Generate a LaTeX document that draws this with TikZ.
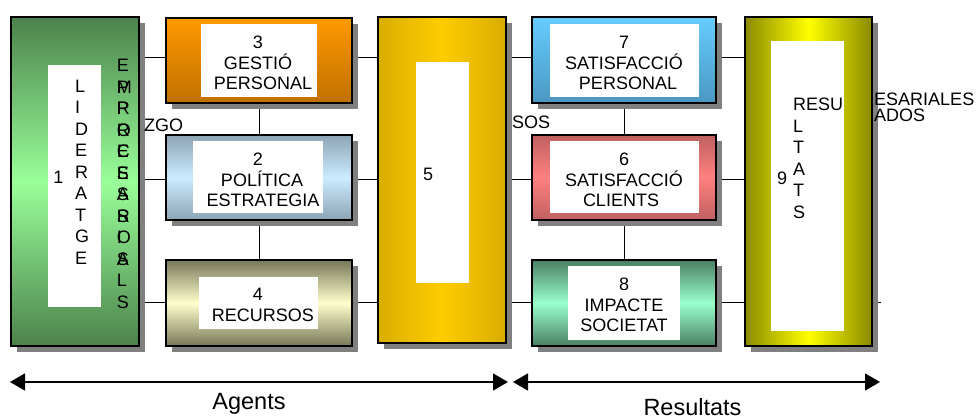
\documentclass[tikz,border=0pt]{standalone}
\usepackage{fontspec}
\setmainfont{Liberation Sans}
\usetikzlibrary{shadows,arrows.meta,backgrounds}
\definecolor{gOne}{HTML}{4C824C}
\definecolor{gOneL}{HTML}{99FF99}
\definecolor{oTop}{HTML}{FF9900}
\definecolor{oBot}{HTML}{C07000}
\definecolor{bgEdge}{HTML}{8CA5B5}
\definecolor{bgMid}{HTML}{CCEBFF}
\definecolor{olEdge}{HTML}{77775A}
\definecolor{olMid}{HTML}{FFFFCC}
\definecolor{gdEdge}{HTML}{D9AD00}
\definecolor{gdMid}{HTML}{FFCC00}
\definecolor{skTop}{HTML}{66CCFF}
\definecolor{skBot}{HTML}{4A98C2}
\definecolor{rdEdge}{HTML}{C06060}
\definecolor{rdMid}{HTML}{FF8080}
\definecolor{mnEdge}{HTML}{4A8063}
\definecolor{mnMid}{HTML}{99FFCC}
\definecolor{yeEdge}{HTML}{8A8A00}
\definecolor{yeMid}{HTML}{FFFF00}
\begin{document}
\begin{tikzpicture}[x=1pt,y=-1pt,
  box/.style={draw=black, line width=1.8pt, inner sep=0pt, outer sep=0pt,
    drop shadow={shadow xshift=5.5pt,shadow yshift=-5.5pt,fill=black!50,opacity=1}},
  inner/.style={fill=white, inner sep=0pt, outer sep=0pt},
  lbl/.style={font=\fontsize{18}{20.5}\selectfont, align=center, inner sep=0pt},
  vert/.style={font=\fontsize{18}{21.5}\selectfont, align=left, inner sep=0pt, anchor=north west},
  conn/.style={line width=1pt},
  span/.style={line width=1.3pt, {Triangle[length=15pt,width=17pt]}-{Triangle[length=15pt,width=17pt]}},
  big/.style={font=\fontsize{23.5}{26}\selectfont, inner sep=0pt, anchor=base}]
\useasboundingbox (0,0) rectangle (979,418);

% boxes
\node[box, top color=gOne, bottom color=gOne, middle color=gOneL, minimum width=128pt, minimum height=329pt] (b1) at (75,181.5) {};
\node[box, top color=oTop, bottom color=oBot, minimum width=186pt, minimum height=85pt] (b3) at (259,60.5) {};
\node[box, top color=bgEdge, bottom color=bgEdge, middle color=bgMid, minimum width=186pt, minimum height=85pt] (b2) at (259,177.5) {};
\node[box, top color=olEdge, bottom color=olEdge, middle color=olMid, minimum width=186pt, minimum height=86pt] (b4) at (259,303) {};
\node[box, left color=gdEdge, right color=gdEdge, middle color=gdMid, minimum width=128pt, minimum height=326pt] (b5) at (442,180) {};
\node[box, top color=skTop, bottom color=skBot, minimum width=184pt, minimum height=86pt] (b7) at (624,60) {};
\node[box, top color=rdEdge, bottom color=rdEdge, middle color=rdMid, minimum width=184pt, minimum height=85pt] (b6) at (624,177.5) {};
\node[box, top color=mnEdge, bottom color=mnEdge, middle color=mnMid, minimum width=184pt, minimum height=86pt] (b8) at (624,303) {};
\node[box, left color=yeEdge, right color=yeEdge, middle color=yeMid, minimum width=127pt, minimum height=329pt] (b9) at (808.5,181.5) {};

% inner white panels
\node[inner, minimum width=53pt, minimum height=242pt] (w1) at (74.5,186) {};
\node[inner, minimum width=116pt, minimum height=73pt] (w3) at (259,60.5) {};
\node[inner, minimum width=130pt, minimum height=72pt] (w2) at (258,177) {};
\node[inner, minimum width=119pt, minimum height=52pt] (w4) at (258.5,303) {};
\node[inner, minimum width=53pt, minimum height=221pt] (w5) at (442.5,172.5) {};
\node[inner, minimum width=149pt, minimum height=73pt] (w7) at (624.5,60.5) {};
\node[inner, minimum width=149pt, minimum height=72pt] (w6) at (624.5,177) {};
\node[inner, minimum width=112pt, minimum height=74pt] (w8) at (624,303) {};
\node[inner, minimum width=73pt, minimum height=290pt] (w9) at (807.5,186) {};

% connectors
\coordinate (r1) at (0,57);
\coordinate (r2) at (0,179);
\coordinate (r3) at (0,302);
\coordinate (stub) at (881,302);
\begin{scope}[on background layer]
  \draw[conn] (b1 |- r1) -- (b3 |- r1);
  \draw[conn] (b3 |- r1) -- (b5 |- r1);
  \draw[conn] (b5 |- r1) -- (b7 |- r1);
  \draw[conn] (b7 |- r1) -- (b9 |- r1);
  \draw[conn] (b1 |- r2) -- (b2 |- r2);
  \draw[conn] (b2 |- r2) -- (b5 |- r2);
  \draw[conn] (b5 |- r2) -- (b6 |- r2);
  \draw[conn] (b6 |- r2) -- (b9 |- r2);
  \draw[conn] (b1 |- r3) -- (b4 |- r3);
  \draw[conn] (b4 |- r3) -- (b5 |- r3);
  \draw[conn] (b5 |- r3) -- (b8 |- r3);
  \draw[conn] (b8 |- r3) -- (b9 |- r3);
  \draw[conn] (b9 |- r3) -- (stub);
  \draw[conn] (b3) -- (b2);
  \draw[conn] (b2) -- (b4);
  \draw[conn] (b7) -- (b6);
  \draw[conn] (b6) -- (b8);
\end{scope}

% texts
\node[vert] (lid) at (75,79.5) {L\\I\\D\\E\\R\\A\\T\\G\\E};
\node[vert] (emp) at (116.7,59) {E\\M\\P\\R\\E\\S\\A\\R\\I\\A\\L\\S};
\node[vert] (proc) at (116.7,80.5) {P\\R\\O\\C\\E\\S\\S\\O\\S};
\node[lbl] (n1) at (58.5,177.5) {1};
\node[lbl] (n5) at (428,174) {5};
\node[lbl] (n9) at (782,178) {9};
\node[vert] (res) at (793,98) {RESU\\L\\T\\A\\T\\S};
\node[lbl, anchor=base west] (zgo) at (144,131.7) {ZGO};
\node[lbl, anchor=base west] (sos) at (512,128.3) {SOS};
\node[vert, font=\fontsize{18}{16}\selectfont] (esa) at (874,92.7) {ESARIALES\\ADOS};

\node[lbl] (t3) at (258,63) {3\\GESTIÓ\hspace*{10pt}\\\hspace*{10pt}PERSONAL};
\node[lbl] (t2) at (258,180) {2\\\hspace*{8pt}POLÍTICA\\\hspace*{10pt}ESTRATEGIA};
\node[lbl] (t4) at (258,305) {4\\\hspace*{10pt}RECURSOS};
\node[lbl] (t7) at (624,63) {7\\SATISFACCIÓ\hspace*{4pt}\\\hspace*{8pt}PERSONAL};
\node[lbl] (t6) at (624,180) {6\\SATISFACCIÓ\hspace*{4pt}\\CLIENTS\hspace*{6pt}};
\node[lbl] (t8) at (624,305) {8\\IMPACTE\\SOCIETAT};

% bottom spans
\coordinate (a1) at (10,382);
\coordinate (a2) at (508,382);
\coordinate (a3) at (513,382);
\coordinate (a4) at (880,382);
\draw[span] (a1) -- (a2);
\draw[span] (a3) -- (a4);
\node[big] (ag) at (249,409) {Agents};
\node[big] (rs) at (692.5,415) {Resultats};
\end{tikzpicture}
\end{document}
